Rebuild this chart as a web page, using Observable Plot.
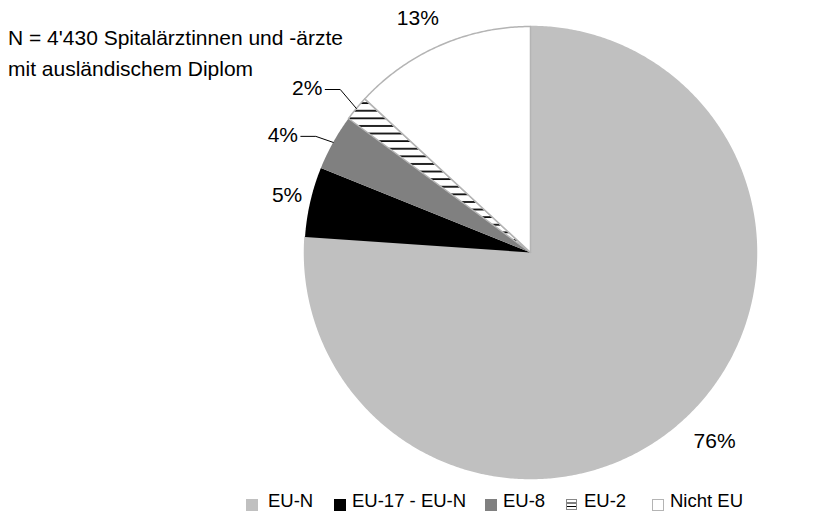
<!DOCTYPE html>
<html><head><meta charset="utf-8">
<script src="https://cdn.jsdelivr.net/npm/d3@7"></script>
<script src="https://cdn.jsdelivr.net/npm/@observablehq/plot@0.6"></script>
<style>
body{margin:0;background:#fff;font-family:"Liberation Sans",Arial,sans-serif;}
#wrap{position:relative;width:818px;height:516px;overflow:hidden}
#chart{position:absolute;left:0;top:0}
#title{position:absolute;left:8px;top:22px;font-size:21px;line-height:31px;color:#000;white-space:nowrap}
.leg{position:absolute;top:489px;height:24px;font-size:18.5px;white-space:nowrap;color:#000}
.leg .sw{position:absolute;top:10px;width:12px;height:12px;box-sizing:border-box}
.leg .tx{position:absolute;top:0;line-height:24px}
</style></head>
<body><div id="wrap"><div id="chart"></div><div id="title">N = 4'430 Spitalärztinnen und -ärzte<br>mit ausländischem Diplom</div></div>
<script>
// ---- data ----
const categories = ["EU-N", "EU-17 - EU-N", "EU-8", "EU-2", "Nicht EU"];
const shares = [76.1, 5.0, 4.0, 1.8, 13.1];
const labels = ["76%", "5%", "4%", "2%", "13%"];

// ---- layout / style ----
const W = 818, H = 516, cx = 530, cy = 252, R = 226;
const fills = ["#c0c0c0", "#000000", "#808080", "url(#hatch)", "#ffffff"];
const strokes = ["#c0c0c0", "none", "none", "#b4b4b4", "#b4b4b4"];
const labelDist = [264, 250, 274, 277, 260];
const labelShiftDeg = [-1.2, 0.2, -3.85, -3.3, -2.1];
const hasLeader = [false, false, true, true, false];
const legendX = [246, 334, 485, 566, 652];

const total = d3.sum(shares);
let cum = 0;
const slices = shares.map((v, i) => {
  const a0 = cum / total * 2 * Math.PI; cum += v;
  const a1 = cum / total * 2 * Math.PI;
  return {cat: categories[i], i, a0, a1, mid: (a0 + a1) / 2};
});
const P = (a, r) => ({x: cx + r * Math.sin(a), y: cy - r * Math.cos(a)});

const marks = [];
slices.forEach(s => {
  const n = Math.max(2, Math.ceil((s.a1 - s.a0) / (Math.PI / 360)));
  const pts = [{x: cx, y: cy}];
  for (let k = 0; k <= n; k++) pts.push(P(s.a0 + (s.a1 - s.a0) * k / n, R));
  pts.push({x: cx, y: cy});
  marks.push(Plot.line(pts, {x: "x", y: "y", fill: fills[s.i], stroke: strokes[s.i],
    strokeWidth: 1.5, strokeLinejoin: "round", curve: "linear"}));
});

const labelData = slices.map(s => {
  const p = P(s.mid + labelShiftDeg[s.i] * Math.PI / 180, labelDist[s.i]);
  return {x: p.x, y: p.y, text: labels[s.i], i: s.i, mid: s.mid};
});
const leaders = [];
labelData.filter(d => hasLeader[d.i]).forEach(d => {
  const e = P(d.mid, R);
  leaders.push({x: d.x + 18, y: d.y + 1, k: d.i});
  leaders.push({x: d.x + 33, y: d.y + 1, k: d.i});
  leaders.push({x: e.x, y: e.y, k: d.i});
});
marks.push(Plot.line(leaders, {x: "x", y: "y", z: "k", stroke: "#000", strokeWidth: 1}));
marks.push(Plot.text(labelData, {x: "x", y: "y", text: "text", fill: "#000", fontSize: 21}));

const svg = Plot.plot({
  width: W, height: H, margin: 0,
  x: {type: "identity", axis: null}, y: {type: "identity", axis: null},
  style: {fontFamily: "'Liberation Sans', Arial, sans-serif", background: "white"},
  marks
});
const defs = d3.select(svg).insert("defs", ":first-child");
const pat = defs.append("pattern").attr("id", "hatch").attr("patternUnits", "userSpaceOnUse")
  .attr("width", 8).attr("height", 7.6);
pat.append("rect").attr("width", 8).attr("height", 7.6).attr("fill", "#fff");
pat.append("rect").attr("y", 3).attr("width", 8).attr("height", 1.7).attr("fill", "#000");
document.getElementById("chart").appendChild(svg);

// ---- legend ----
const wrap = document.getElementById("wrap");
categories.forEach((c, i) => {
  const item = document.createElement("div");
  item.className = "leg";
  item.style.left = legendX[i] + "px";
  let sw;
  if (i === 3) {
    sw = `<svg width="11" height="11" style="position:absolute;top:10px;left:0"><rect x="0.5" y="0.5" width="10" height="10" fill="#fff" stroke="#888"/><line x1="1" x2="10" y1="4" y2="4" stroke="#000"/><line x1="1" x2="10" y1="7.5" y2="7.5" stroke="#000"/></svg>`;
  } else {
    const b = i === 4 ? "border:1px solid #b4b4b4;" : "";
    sw = `<div class="sw" style="left:0;background:${fills[i]};${b}"></div>`;
  }
  item.innerHTML = sw + `<span class="tx" style="left:${i === 0 ? 22 : 18}px">${c}</span>`;
  wrap.appendChild(item);
});
</script>
</body></html>
